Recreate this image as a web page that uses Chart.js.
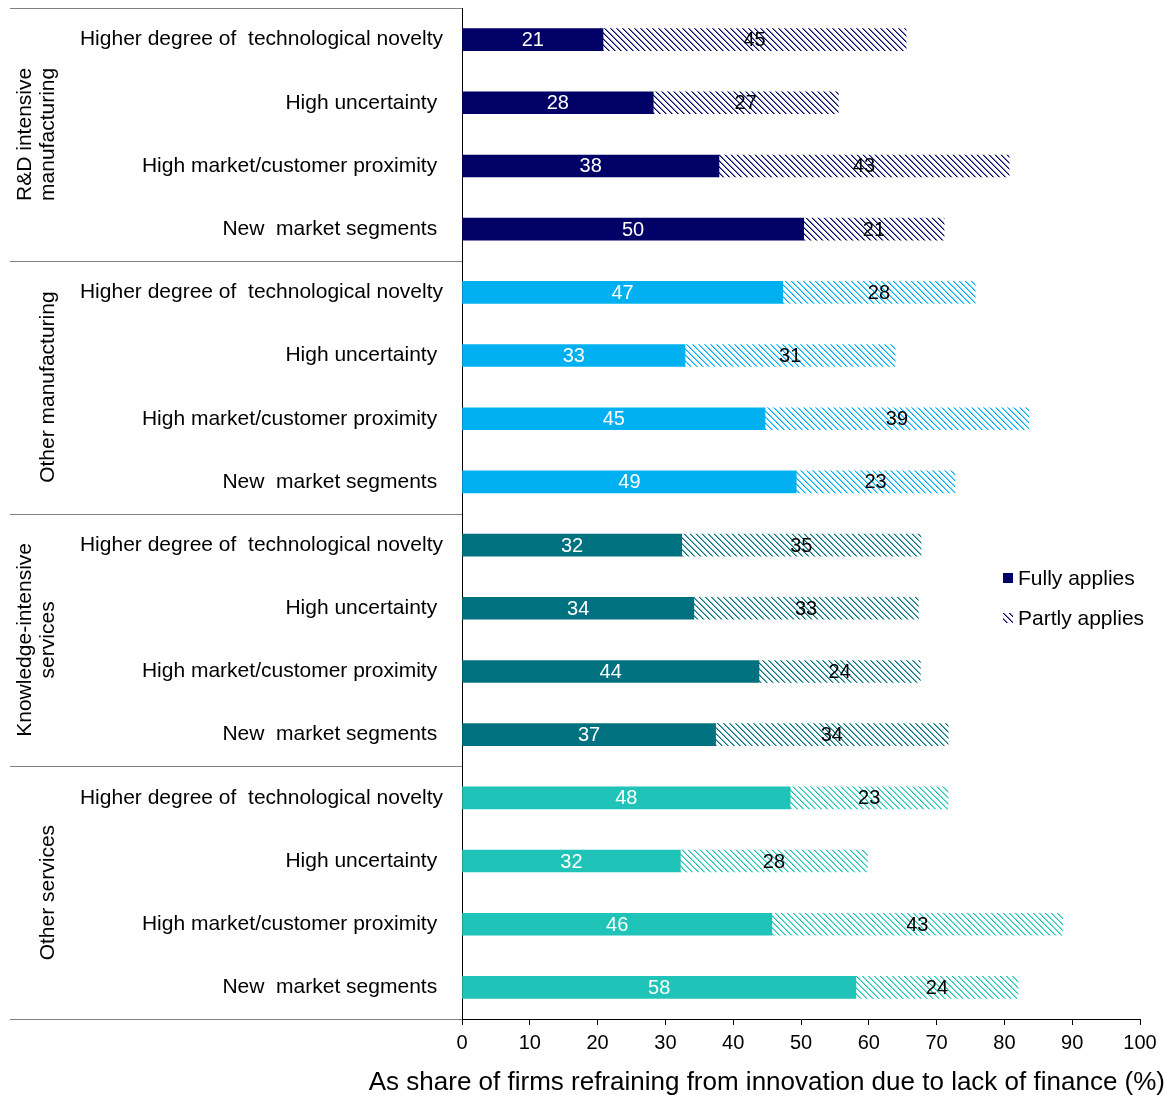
<!DOCTYPE html>
<html lang="en">
<head>
<meta charset="UTF-8">
<title>Lack of finance by innovation type</title>
<script src="https://cdn.jsdelivr.net/npm/chart.js"></script>
<style>
  body { margin: 0; background: #fff; }
</style>
</head>
<body>
<canvas id="financeChart" width="1171" height="1097"></canvas>
<script>
// categories (trailing spaces as in the original labels)
const categories = [
  'Higher degree of  technological novelty', 'High uncertainty ', 'High market/customer proximity ', 'New  market segments ',
  'Higher degree of  technological novelty', 'High uncertainty ', 'High market/customer proximity ', 'New  market segments ',
  'Higher degree of  technological novelty', 'High uncertainty ', 'High market/customer proximity ', 'New  market segments ',
  'Higher degree of  technological novelty', 'High uncertainty ', 'High market/customer proximity ', 'New  market segments '
];
const groups = [['R&D intensive', 'manufacturing'], ['Other manufacturing'], ['Knowledge-intensive', 'services'], ['Other services']];
const groupColors = ['#000066', '#00B0F0', '#00717F', '#1FC3B7'];
const seriesNames = ['Fully applies', 'Partly applies'];
const fullyApplies  = [20.8, 28.2, 37.9, 50.4, 47.3, 32.9, 44.7, 49.3, 32.4, 34.2, 43.8, 37.4, 48.4, 32.2, 45.7, 58.1];
const partlyApplies = [44.7, 27.3, 42.8, 20.7, 28.4, 31.0, 38.9, 23.4, 35.3, 33.1, 23.8, 34.3, 23.3, 27.6, 42.9, 23.9];
const xTicks = [0, 10, 20, 30, 40, 50, 60, 70, 80, 90, 100];
const xTitle = 'As share of firms refraining from innovation due to lack of finance (%)';

const FONT = 'Arial, "Liberation Sans", sans-serif';
Chart.defaults.font.family = FONT;
Chart.defaults.color = '#000';

const canvas = document.getElementById('financeChart');
const ctx = canvas.getContext('2d');

// diagonal hatch pattern, colour stripes on white
function hatch(color) {
  const tile = document.createElement('canvas');
  tile.width = 6; tile.height = 6;
  const t = tile.getContext('2d');
  t.fillStyle = '#fff';
  t.fillRect(0, 0, 6, 6);
  t.fillStyle = color;
  for (let y = 0; y < 6; y++) {
    for (let x = 0; x < 6; x++) {
      const d = ((x - y) % 6 + 6) % 6;
      if (d === 0) { t.globalAlpha = 1; t.fillRect(x, y, 1, 1); }
      else if (d === 1) { t.globalAlpha = 0.55; t.fillRect(x, y, 1, 1); }
    }
  }
  return ctx.createPattern(tile, 'repeat');
}

const solidColors = categories.map((c, i) => groupColors[Math.floor(i / 4)]);
const hatchByGroup = groupColors.map(hatch);
const hatchColors = categories.map((c, i) => hatchByGroup[Math.floor(i / 4)]);

const extras = {
  id: 'extras',
  afterDatasetsDraw(chart) {
    const c = chart.ctx;
    // value labels
    c.save();
    c.font = '20px ' + FONT;
    c.textAlign = 'center';
    c.textBaseline = 'middle';
    chart.data.datasets.forEach((ds, di) => {
      chart.getDatasetMeta(di).data.forEach((bar, i) => {
        c.fillStyle = di === 0 ? '#fff' : '#000';
        c.fillText(Math.round(ds.data[i]), (bar.x + bar.base) / 2, bar.y + 1);
      });
    });
    c.restore();
  },
  afterDraw(chart) {
    const c = chart.ctx;
    const area = chart.chartArea;
    const step = (area.bottom - area.top) / categories.length;
    c.save();
    // group separators
    c.strokeStyle = '#808080';
    c.lineWidth = 1;
    for (let g = 0; g <= groups.length; g++) {
      const y = Math.round(area.top + g * 4 * step) + 0.5;
      c.beginPath();
      c.moveTo(10, y);
      c.lineTo(area.left, y);
      c.stroke();
    }
    // group labels, rotated
    c.fillStyle = '#000';
    c.font = '21px ' + FONT;
    c.textAlign = 'center';
    c.textBaseline = 'middle';
    groups.forEach((lines, g) => {
      const yc = area.top + (g * 4 + 2) * step;
      const x0 = lines.length > 1 ? 25 : 48;
      c.save();
      c.translate(x0, yc);
      c.rotate(-Math.PI / 2);
      lines.forEach((l, k) => c.fillText(l, 0, k * 23));
      c.restore();
    });
    // axis title
    c.font = '26px ' + FONT;
    c.textAlign = 'right';
    c.fillText(xTitle, 1165, 1083);
    // legend
    c.font = '21px ' + FONT;
    c.textAlign = 'left';
    c.fillStyle = groupColors[0];
    c.fillRect(1003, 573, 10, 10);
    c.fillStyle = hatchByGroup[0];
    c.fillRect(1003, 613, 10, 10);
    c.fillStyle = '#000';
    c.fillText(seriesNames[0], 1018, 579);
    c.fillText(seriesNames[1], 1018, 619);
    c.restore();
  }
};

new Chart(ctx, {
  type: 'bar',
  data: {
    labels: categories,
    datasets: [
      { label: seriesNames[0], data: fullyApplies, backgroundColor: solidColors, barThickness: 22 },
      { label: seriesNames[1], data: partlyApplies, backgroundColor: hatchColors, barThickness: 22 }
    ]
  },
  options: {
    indexAxis: 'y',
    responsive: false,
    animation: false,
    layout: { padding: { top: 8, right: 31, left: 0, bottom: 0 } },
    plugins: { legend: { display: false }, tooltip: { enabled: false } },
    scales: {
      x: {
        stacked: true,
        min: 0,
        max: 100,
        afterBuildTicks: s => { s.ticks = xTicks.map(v => ({ value: v })); },
        afterFit: s => { s.height = 78; },
        grid: { drawOnChartArea: false, color: '#000', tickLength: 6 },
        border: { color: '#000' },
        ticks: { font: { size: 20 }, padding: 6, maxRotation: 0 }
      },
      y: {
        stacked: true,
        afterFit: s => { s.width = 462; s.paddingTop = 0; s.paddingBottom = 0; },
        grid: { display: false, drawTicks: false },
        border: { color: '#000' },
        ticks: { font: { size: 21 }, padding: 19, autoSkip: false }
      }
    }
  },
  plugins: [extras]
});
</script>
</body>
</html>
